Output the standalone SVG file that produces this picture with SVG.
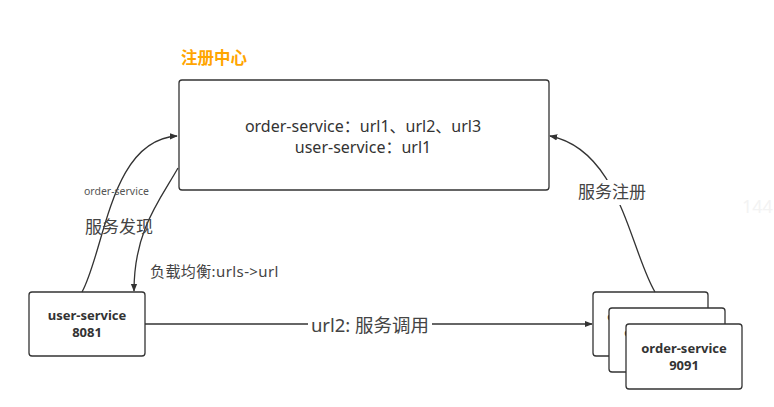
<svg xmlns="http://www.w3.org/2000/svg" width="774" height="407" viewBox="0 0 774 407">
<defs>
<marker id="arr" viewBox="0 0 10 10" refX="9" refY="5" markerWidth="8" markerHeight="8" markerUnits="userSpaceOnUse" orient="auto">
<path d="M0,1 L10,5 L0,9 Z" fill="#333"/>
</marker>
<style>
text{font-family:"Noto Sans","Noto Sans CJK SC",sans-serif;}
.box{fill:#fff;stroke:#333;stroke-width:1.3;}
.bold{font-weight:bold;font-size:13px;fill:#333;text-anchor:middle;}
.main{font-size:16px;fill:#333;text-anchor:middle;}
.lbl{font-size:16px;fill:#444;}
.small{font-size:10.5px;fill:#555;}
.conn{fill:none;stroke:#333;stroke-width:1.3;}
</style>
</defs>
<rect width="774" height="407" fill="#fff"/>
<text x="181" y="64" style="font-family:'Noto Sans CJK SC',sans-serif;font-size:16.5px;font-weight:bold;fill:#FFA500">注册中心</text>
<g id="registry">
<rect class="box" x="179" y="80" width="370" height="110" rx="3"/>
<text class="main" x="363" y="132">order-service：url1、url2、url3</text>
<text class="main" x="363" y="153">user-service：url1</text>
</g>
<g id="user-service">
<rect class="box" x="29" y="292" width="116" height="64" rx="3"/>
<text class="bold" x="87" y="320">user-service</text>
<text class="bold" x="87" y="337">8081</text>
</g>
<g id="order-service-1">
<rect class="box" x="593" y="292" width="115" height="64" rx="3"/>
<text class="bold" x="650" y="321">order-service</text>
</g>
<g id="order-service-2">
<rect class="box" x="609" y="308" width="116" height="64" rx="3"/>
<text class="bold" x="667" y="337">order-service</text>
</g>
<g id="order-service-3">
<rect class="box" x="626" y="324" width="116" height="65" rx="3"/>
<text class="bold" x="684" y="353">order-service</text>
<text class="bold" x="684" y="370">9091</text>
</g>
<g id="connectors">
<path class="conn" d="M82,292 C105,250 110,140 177,136" marker-end="url(#arr)"/>
<path class="conn" d="M178,168 C160,200 134,230 134,291" marker-end="url(#arr)"/>
<path class="conn" d="M145,324 L592,324" marker-end="url(#arr)"/>
<path class="conn" d="M655,292 C630,250 620,150 550,136" marker-end="url(#arr)"/>
<text class="small" x="84" y="195">order-service</text>
<text class="lbl" x="85" y="233" style="font-size:17px">服务发现</text>
<text class="lbl" x="150" y="277" style="font-size:15px;letter-spacing:0.4px">负载均衡:urls-&gt;url</text>
<rect x="576" y="180" width="77" height="25" fill="#fff"/>
<text class="lbl" x="578" y="198" style="font-size:17px">服务注册</text>
<rect x="308" y="314" width="124" height="22" fill="#fff"/>
<text class="lbl" x="370" y="332" style="font-size:18.5px;text-anchor:middle">url2: 服务调用</text>
</g>
<text x="742" y="213" style="font-size:18px;fill:#f3f3f3">144</text>
</svg>
